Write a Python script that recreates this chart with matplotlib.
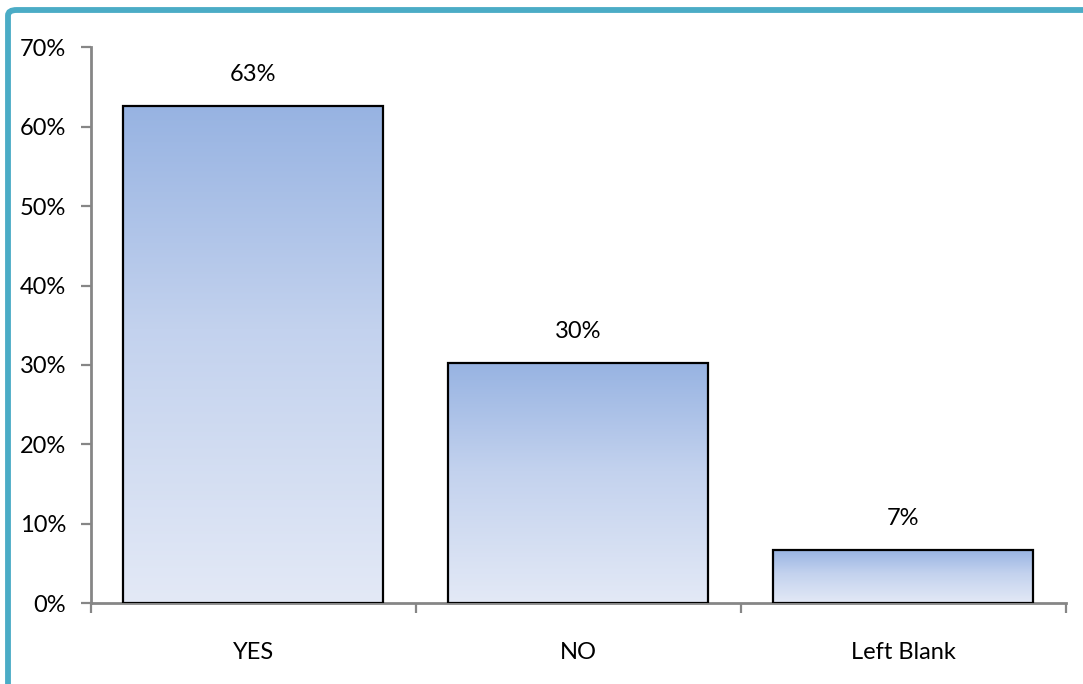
import matplotlib
matplotlib.use("Agg")
import matplotlib.pyplot as plt
import numpy as np
from matplotlib.colors import LinearSegmentedColormap
from matplotlib.patches import FancyBboxPatch
from matplotlib.ticker import FixedLocator, PercentFormatter

categories = ["YES", "NO", "Left Blank"]
values = [62.6, 30.3, 6.7]
value_labels = ["63%", "30%", "7%"]

plt.rcParams['font.family'] = ['Lato', 'DejaVu Sans']

fig = plt.figure(figsize=(10.83, 6.84), dpi=100)
ax = fig.add_axes([0.084, 0.118, 0.900, 0.813])

# teal frame (partially outside the figure)
frame = FancyBboxPatch((8 / 1083, -0.2), 1.3, 1.2 - 10 / 684,
                       boxstyle="round,pad=0,rounding_size=0.008",
                       transform=fig.transFigure, fill=False,
                       edgecolor="#4BACC6", linewidth=4.2, zorder=0)
fig.patches.append(frame)

cmap = LinearSegmentedColormap.from_list(
    "grad", [(0.0, "#E3E9F6"), (0.55, "#C3D2EE"), (1.0, "#97B3E2")])
grad = np.linspace(0, 1, 256).reshape(-1, 1)

width = 0.8
bars = ax.bar(range(len(categories)), values, width=width, color="none",
              edgecolor="black", linewidth=1.6, zorder=3)
for i, (b, v) in enumerate(zip(bars, values)):
    x0 = b.get_x()
    ax.imshow(grad, cmap=cmap, aspect="auto", origin="lower",
              extent=[x0, x0 + width, 0, v], zorder=2)
    ax.annotate(value_labels[i], (i, v), xytext=(0, 15), textcoords="offset points",
                ha="center", va="bottom", fontsize=17)

ax.set_xlim(-0.5, len(categories) - 0.5)
ax.set_ylim(0, 70)
ax.set_yticks(np.arange(0, 71, 10))
ax.yaxis.set_major_formatter(PercentFormatter(decimals=0))
ax.set_xticks(range(len(categories)))
ax.set_xticklabels(categories)
ax.xaxis.set_minor_locator(FixedLocator(np.arange(-0.5, len(categories), 1.0)))

for s in ["top", "right"]:
    ax.spines[s].set_visible(False)
for s in ["left", "bottom"]:
    ax.spines[s].set_color("#868686")
    ax.spines[s].set_linewidth(2)

ax.tick_params(axis="y", length=7, width=1.6, color="#868686", pad=11, labelsize=17)
ax.tick_params(axis="x", which="major", length=0, pad=28, labelsize=17)
ax.tick_params(axis="x", which="minor", length=7, width=1.6, color="#868686")
ax.patch.set_alpha(0)

fig.savefig("out.png", dpi=100)
